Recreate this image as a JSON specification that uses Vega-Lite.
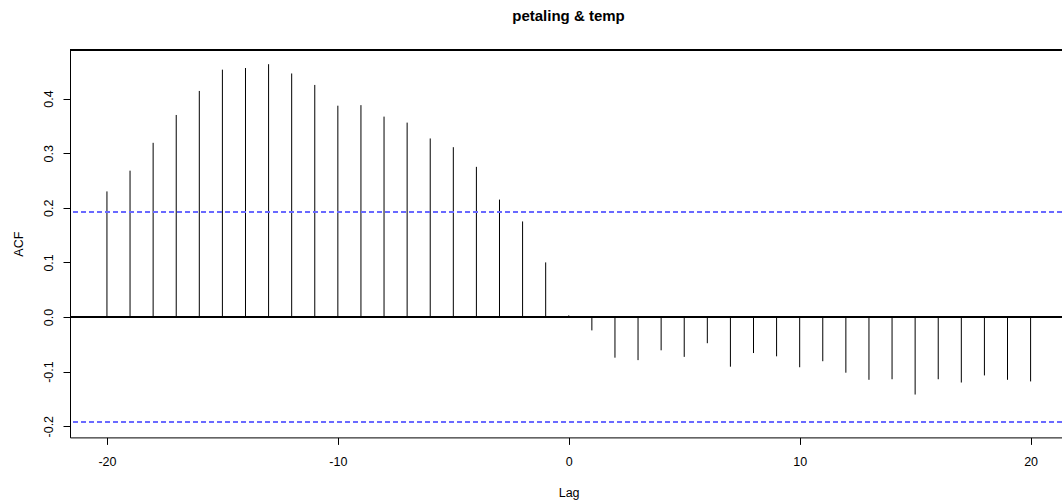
{
  "$schema": "https://vega.github.io/schema/vega-lite/v6.json",
  "autosize": "none",
  "width": 992,
  "height": 387.4,
  "padding": {"left": 70, "top": 50, "right": 0, "bottom": 64.6},
  "background": "white",
  "config": {
    "view": {"stroke": null},
    "font": "Liberation Sans",
    "axis": {"grid": false, "domainColor": "black", "tickColor": "black", "labelColor": "black", "titleColor": "black", "labelFont": "Liberation Sans", "titleFont": "Liberation Sans", "labelFontSize": 12.5, "titleFontSize": 12.5, "titleFontWeight": "normal", "tickSize": 7, "domainWidth": 1, "tickWidth": 1}
  },
  "title": {"text": "petaling & temp", "font": "Liberation Sans", "fontSize": 15, "fontWeight": "bold", "color": "black", "anchor": "middle", "dx": 2.5, "offset": 14, "baseline": "alphabetic"},
  "data": {"values": [
    {"lag": -20, "acf": 0.230}, {"lag": -19, "acf": 0.268}, {"lag": -18, "acf": 0.319},
    {"lag": -17, "acf": 0.370}, {"lag": -16, "acf": 0.414}, {"lag": -15, "acf": 0.453},
    {"lag": -14, "acf": 0.456}, {"lag": -13, "acf": 0.463}, {"lag": -12, "acf": 0.446},
    {"lag": -11, "acf": 0.425}, {"lag": -10, "acf": 0.387}, {"lag": -9, "acf": 0.388},
    {"lag": -8, "acf": 0.367}, {"lag": -7, "acf": 0.356}, {"lag": -6, "acf": 0.327},
    {"lag": -5, "acf": 0.311}, {"lag": -4, "acf": 0.275}, {"lag": -3, "acf": 0.215},
    {"lag": -2, "acf": 0.175}, {"lag": -1, "acf": 0.100}, {"lag": 0, "acf": 0.003},
    {"lag": 1, "acf": -0.0245}, {"lag": 2, "acf": -0.0745}, {"lag": 3, "acf": -0.079},
    {"lag": 4, "acf": -0.061}, {"lag": 5, "acf": -0.073}, {"lag": 6, "acf": -0.048},
    {"lag": 7, "acf": -0.091}, {"lag": 8, "acf": -0.066}, {"lag": 9, "acf": -0.072},
    {"lag": 10, "acf": -0.092}, {"lag": 11, "acf": -0.081}, {"lag": 12, "acf": -0.102},
    {"lag": 13, "acf": -0.115}, {"lag": 14, "acf": -0.114}, {"lag": 15, "acf": -0.142},
    {"lag": 16, "acf": -0.114}, {"lag": 17, "acf": -0.120}, {"lag": 18, "acf": -0.107},
    {"lag": 19, "acf": -0.115}, {"lag": 20, "acf": -0.118}
  ]},
  "layer": [
    {
      "mark": {"type": "rule", "color": "black", "strokeWidth": 1},
      "encoding": {
        "x": {"field": "lag", "type": "quantitative",
          "scale": {"domain": [-21.6, 21.36], "nice": false, "zero": false},
          "axis": {"values": [-20, -10, 0, 10, 20], "title": "Lag", "labelExpr": "replace(format(datum.value, 'd'), '\u2212', '-')", "labelBaseline": "middle", "labelPadding": 16.6, "titleX": 498.6, "titleY": 54.6, "titleBaseline": "middle", "titleAlign": "center"}},
        "y": {"field": "acf", "type": "quantitative",
          "scale": {"domain": [-0.2205, 0.489], "nice": false, "zero": false},
          "axis": {"values": [-0.2, -0.1, 0, 0.1, 0.2, 0.3, 0.4], "title": "ACF", "labelExpr": "replace(format(datum.value, '.1f'), '\u2212', '-')", "labelAngle": -90, "labelAlign": "center", "labelBaseline": "alphabetic", "labelPadding": 11, "titleAngle": -90, "titleX": -52, "titleY": 193.7, "titleAlign": "center", "titleBaseline": "middle"}},
        "y2": {"datum": 0}
      }
    },
    {
      "mark": {"type": "rule", "color": "black", "strokeWidth": 1},
      "encoding": {"y": {"datum": 0}}
    },
    {
      "mark": {"type": "rule", "color": "black", "strokeWidth": 1},
      "encoding": {"y": {"datum": 0.489}}
    },
    {
      "mark": {"type": "rule", "color": "#6a6aff", "strokeWidth": 1, "strokeDash": [5, 3]},
      "encoding": {"y": {"datum": 0.192}}
    },
    {
      "mark": {"type": "rule", "color": "#6a6aff", "strokeWidth": 1, "strokeDash": [5, 3]},
      "encoding": {"y": {"datum": -0.192}}
    }
  ]
}
